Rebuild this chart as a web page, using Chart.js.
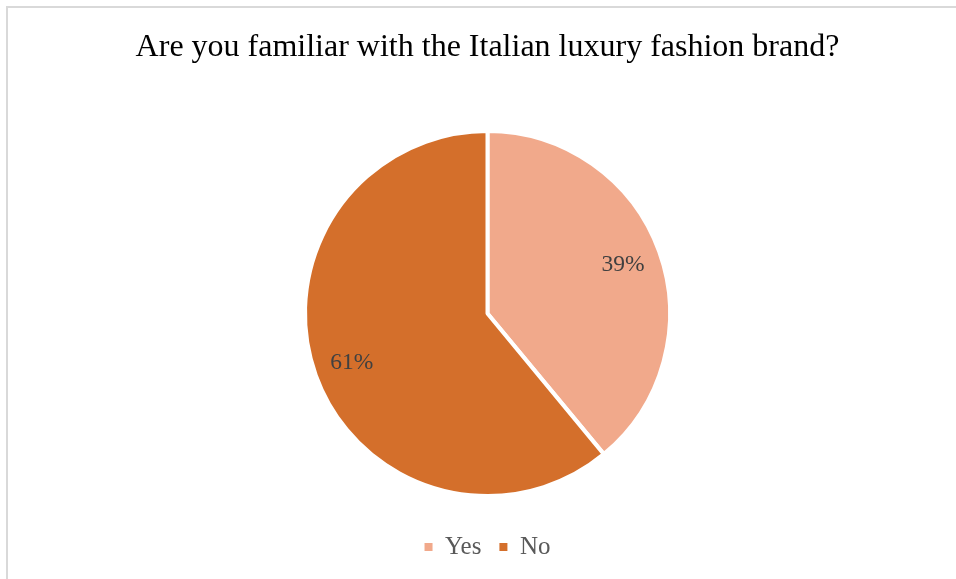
<!DOCTYPE html>
<html>
<head>
<meta charset="utf-8">
<script src="https://cdn.jsdelivr.net/npm/chart.js@4/dist/chart.umd.min.js"></script>
<style>
  html, body { margin: 0; padding: 0; background: #ffffff; }
  #wrap { position: relative; width: 956px; height: 579px; overflow: hidden; }
  #frame {
    position: absolute; left: 6px; top: 6px; width: 1000px; height: 1000px;
    border-left: 2px solid #d9d9d9; border-top: 2px solid #d9d9d9;
  }
  #chart { position: absolute; left: 0; top: 0; }
</style>
</head>
<body>
<div id="wrap">
  <div id="frame"></div>
  <canvas id="chart" width="956" height="579"></canvas>
</div>
<script>
const titleText = 'Are you familiar with the Italian luxury fashion brand?';
const categories = ['Yes', 'No'];
const shares = [39, 61];
const sliceColors = ['#F1A98B', '#D46F2B'];

const serif = '"Liberation Serif", "Times New Roman", serif';

// Percentage labels placed inside each slice along its middle angle
const sliceLabels = {
  id: 'sliceLabels',
  afterDatasetsDraw(chart) {
    const { ctx } = chart;
    const meta = chart.getDatasetMeta(0);
    ctx.save();
    ctx.font = '23.5px ' + serif;
    ctx.fillStyle = '#404040';
    ctx.textAlign = 'center';
    ctx.textBaseline = 'middle';
    meta.data.forEach((arc, i) => {
      const { x, y, startAngle, endAngle, outerRadius } = arc.getProps(['x', 'y', 'startAngle', 'endAngle', 'outerRadius'], true);
      const mid = (startAngle + endAngle) / 2;
      const r = outerRadius * 0.79;
      ctx.fillText(shares[i] + '%', x + Math.cos(mid) * r, y + Math.sin(mid) * r);
    });
    ctx.restore();
  }
};

new Chart(document.getElementById('chart'), {
  type: 'pie',
  data: {
    labels: categories,
    datasets: [{
      data: shares,
      backgroundColor: sliceColors,
      borderColor: '#ffffff',
      borderWidth: 4
    }]
  },
  options: {
    responsive: false,
    animation: false,
    layout: { padding: { top: 0, left: 19, right: 0, bottom: 9.5 } },
    plugins: {
      tooltip: { enabled: false },
      title: {
        display: true,
        text: titleText,
        color: '#000000',
        font: { family: serif, size: 32, weight: 'normal', lineHeight: 1.2 },
        padding: { top: 28.3, bottom: 62.3 }
      },
      legend: {
        display: true,
        position: 'bottom',
        title: { display: true, text: '', font: { size: 18.5, lineHeight: 1 }, padding: 0 },
        labels: {
          color: '#595959',
          font: { family: serif, size: 25 },
          boxWidth: 8,
          boxHeight: 8,
          padding: 18,
          // solid squares without the slice separator stroke
          generateLabels(chart) {
            const items = Chart.overrides.pie.plugins.legend.labels.generateLabels(chart);
            items.forEach(it => { it.lineWidth = 0; it.strokeStyle = it.fillStyle; });
            return items;
          }
        }
      }
    }
  },
  plugins: [sliceLabels]
});
</script>
</body>
</html>
